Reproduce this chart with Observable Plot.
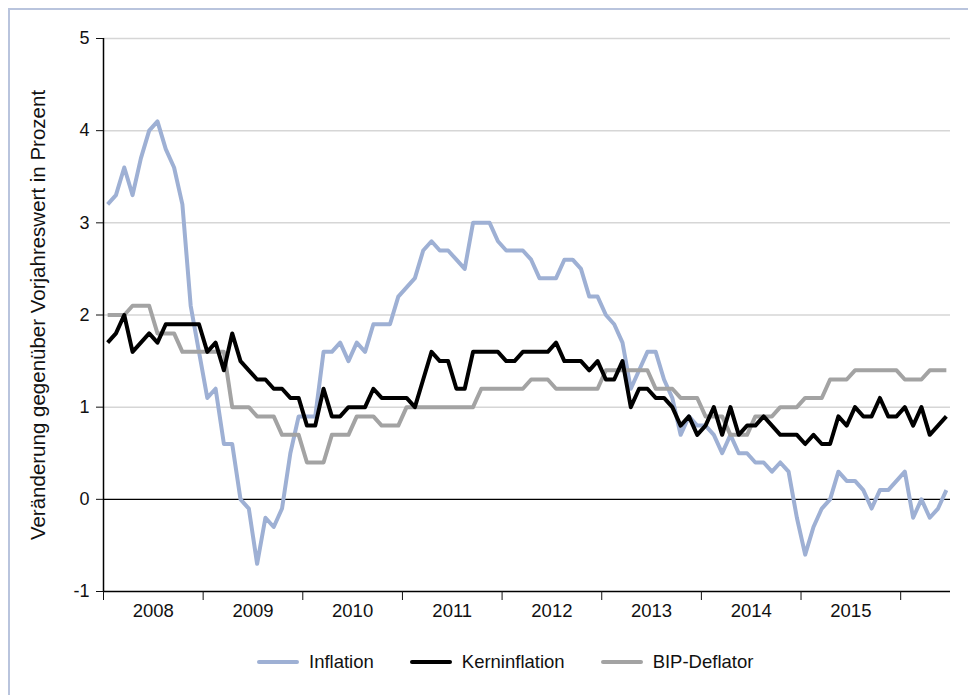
<!DOCTYPE html>
<html>
<head>
<meta charset="utf-8">
<script src="https://cdn.jsdelivr.net/npm/d3@7"></script>
<script src="https://cdn.jsdelivr.net/npm/@observablehq/plot@0.6"></script>
<style>
  body { margin: 0; background: #fff; font-family: "Liberation Sans", Arial, sans-serif; }
  #wrap { position: relative; width: 968px; height: 695px; overflow: hidden; background: #fff; }
  #frame { position: absolute; left: 8px; top: 8px; right: -4px; bottom: -4px; border-left: 2px solid #b9c4dd; border-top: 2px solid #b9c4dd; }
  #chart { position: absolute; left: 0; top: 0; }
  #legend { position: absolute; left: 257px; top: 651px; display: flex; align-items: center; font-size: 18.5px; color: #111; }
  .item { display: flex; align-items: center; margin-right: 36px; }
  .sw { width: 42px; height: 4px; border-radius: 2px; margin-right: 10px; }
</style>
</head>
<body>
<div id="wrap">
  <div id="frame"></div>
  <div id="chart"></div>
  <div id="legend"></div>
</div>
<script>
// Monthly data, Jan 2008 – Jun 2016 (Veränderung gegenüber Vorjahreswert in %)
const years = [2008, 2009, 2010, 2011, 2012, 2013, 2014, 2015];
const yTicks = [-1, 0, 1, 2, 3, 4, 5];

const inflation = [
  3.2, 3.3, 3.6, 3.3, 3.7, 4.0, 4.1, 3.8, 3.6, 3.2, 2.1, 1.6,
  1.1, 1.2, 0.6, 0.6, 0.0, -0.1, -0.7, -0.2, -0.3, -0.1, 0.5, 0.9,
  0.9, 0.9, 1.6, 1.6, 1.7, 1.5, 1.7, 1.6, 1.9, 1.9, 1.9, 2.2,
  2.3, 2.4, 2.7, 2.8, 2.7, 2.7, 2.6, 2.5, 3.0, 3.0, 3.0, 2.8,
  2.7, 2.7, 2.7, 2.6, 2.4, 2.4, 2.4, 2.6, 2.6, 2.5, 2.2, 2.2,
  2.0, 1.9, 1.7, 1.2, 1.4, 1.6, 1.6, 1.3, 1.1, 0.7, 0.9, 0.8,
  0.8, 0.7, 0.5, 0.7, 0.5, 0.5, 0.4, 0.4, 0.3, 0.4, 0.3, -0.2,
  -0.6, -0.3, -0.1, 0.0, 0.3, 0.2, 0.2, 0.1, -0.1, 0.1, 0.1, 0.2,
  0.3, -0.2, 0.0, -0.2, -0.1, 0.1
];

const kerninflation = [
  1.7, 1.8, 2.0, 1.6, 1.7, 1.8, 1.7, 1.9, 1.9, 1.9, 1.9, 1.9,
  1.6, 1.7, 1.4, 1.8, 1.5, 1.4, 1.3, 1.3, 1.2, 1.2, 1.1, 1.1,
  0.8, 0.8, 1.2, 0.9, 0.9, 1.0, 1.0, 1.0, 1.2, 1.1, 1.1, 1.1,
  1.1, 1.0, 1.3, 1.6, 1.5, 1.5, 1.2, 1.2, 1.6, 1.6, 1.6, 1.6,
  1.5, 1.5, 1.6, 1.6, 1.6, 1.6, 1.7, 1.5, 1.5, 1.5, 1.4, 1.5,
  1.3, 1.3, 1.5, 1.0, 1.2, 1.2, 1.1, 1.1, 1.0, 0.8, 0.9, 0.7,
  0.8, 1.0, 0.7, 1.0, 0.7, 0.8, 0.8, 0.9, 0.8, 0.7, 0.7, 0.7,
  0.6, 0.7, 0.6, 0.6, 0.9, 0.8, 1.0, 0.9, 0.9, 1.1, 0.9, 0.9,
  1.0, 0.8, 1.0, 0.7, 0.8, 0.9
];

const bipDeflator = [
  2.0, 2.0, 2.0, 2.1, 2.1, 2.1, 1.8, 1.8, 1.8, 1.6, 1.6, 1.6,
  1.6, 1.6, 1.6, 1.0, 1.0, 1.0, 0.9, 0.9, 0.9, 0.7, 0.7, 0.7,
  0.4, 0.4, 0.4, 0.7, 0.7, 0.7, 0.9, 0.9, 0.9, 0.8, 0.8, 0.8,
  1.0, 1.0, 1.0, 1.0, 1.0, 1.0, 1.0, 1.0, 1.0, 1.2, 1.2, 1.2,
  1.2, 1.2, 1.2, 1.3, 1.3, 1.3, 1.2, 1.2, 1.2, 1.2, 1.2, 1.2,
  1.4, 1.4, 1.4, 1.4, 1.4, 1.4, 1.2, 1.2, 1.2, 1.1, 1.1, 1.1,
  0.9, 0.9, 0.9, 0.7, 0.7, 0.7, 0.9, 0.9, 0.9, 1.0, 1.0, 1.0,
  1.1, 1.1, 1.1, 1.3, 1.3, 1.3, 1.4, 1.4, 1.4, 1.4, 1.4, 1.4,
  1.3, 1.3, 1.3, 1.4, 1.4, 1.4
];

const seriesNames = ["Inflation", "Kerninflation", "BIP-Deflator"];
const seriesColors = ["#9eb0d4", "#000000", "#a3a3a3"];
const seriesValues = [inflation, kerninflation, bipDeflator];

const rows = seriesValues.flatMap((vals, s) =>
  vals.map((v, i) => ({ i, v, series: seriesNames[s] }))
);

const nMonths = inflation.length;
const yearBoundaries = d3.range(0, years.length + 1).map(k => k * 12 - 0.5);
const yearCenters = years.map((y, k) => k * 12 + 5.5);

const drawOrder = [0, 2, 1];

const chart = Plot.plot({
  width: 968,
  height: 630,
  marginLeft: 103,
  marginRight: 18,
  marginTop: 38,
  marginBottom: 39,
  style: { fontFamily: "'Liberation Sans', Arial, sans-serif", fontSize: "18px", color: "#111", background: "transparent" },
  x: { domain: [-0.5, nMonths - 0.5], axis: null },
  y: { domain: [-1, 5], axis: null },
  marks: [
    Plot.gridY([1, 2, 3, 4, 5], { stroke: "#d6d6d6", strokeOpacity: 1, strokeWidth: 1.5 }),
    Plot.ruleY([0], { stroke: "#000", strokeWidth: 1.3 }),
    Plot.ruleY([-1], { stroke: "#000", strokeWidth: 1.5 }),
    Plot.ruleX([-0.5], { y1: -1, y2: 5, stroke: "#000", strokeWidth: 1.5 }),
    Plot.axisY(yTicks, { tickSize: 7, tickPadding: 7, label: null, tickFormat: d => String(d), fontSize: 18 }),
    Plot.axisX(yearBoundaries, { tickSize: 9, tickFormat: () => "", label: null }),
    Plot.axisX(yearCenters, { tickSize: 0, tickPadding: 12, label: null, fontSize: 18.5,
      tickFormat: d => String(years[Math.round((d - 5.5) / 12)]) }),
    ...drawOrder.map(s => Plot.lineY(rows.filter(r => r.series === seriesNames[s]), {
      x: "i", y: "v", stroke: seriesColors[s], strokeWidth: 4, strokeLinejoin: "round", strokeLinecap: "butt"
    })),
    Plot.text(["Veränderung gegenüber Vorjahreswert in Prozent"], {
      frameAnchor: "left", dx: -65, rotate: -90, textAnchor: "middle", lineAnchor: "middle", fontSize: 20.5, fill: "#111"
    })
  ]
});
document.getElementById("chart").appendChild(chart);

const legend = document.getElementById("legend");
seriesNames.forEach((name, s) => {
  const item = document.createElement("div");
  item.className = "item";
  const sw = document.createElement("span");
  sw.className = "sw";
  sw.style.background = seriesColors[s];
  const label = document.createElement("span");
  label.textContent = name;
  item.appendChild(sw);
  item.appendChild(label);
  legend.appendChild(item);
});
</script>
</body>
</html>
